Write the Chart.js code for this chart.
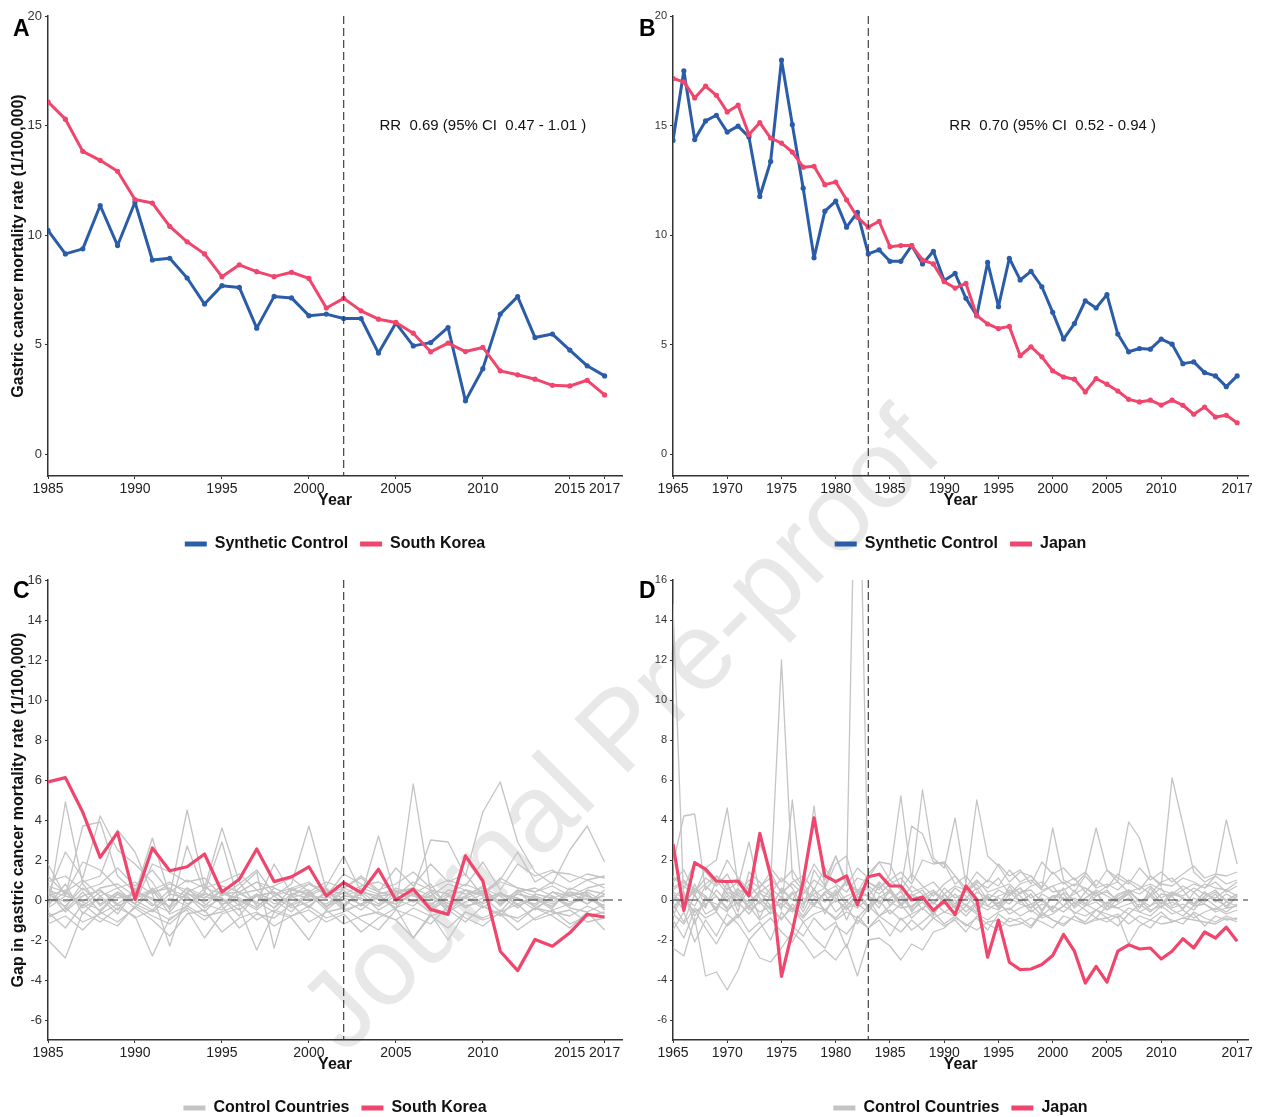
<!DOCTYPE html>
<html>
<head>
<meta charset="utf-8">
<script src="https://cdn.jsdelivr.net/npm/chart.js@4.4.1/dist/chart.umd.min.js"></script>
<style>
html,body{margin:0;padding:0;background:#fff;}
#wrap{position:relative;width:1261px;height:1117px;overflow:hidden;}
canvas{position:absolute;}
#wm{position:absolute;left:618px;top:728px;transform:translate(-50%,-50%) rotate(-45deg);font:110px "Liberation Sans",Arial,sans-serif;color:#e8e8e8;white-space:nowrap;}
</style>
</head>
<body>
<div id="wrap">
<div id="wm">Journal Pre-proof</div>
<canvas id="pA" width="630" height="562" style="left:0;top:0"></canvas>
<canvas id="pB" width="631" height="562" style="left:630px;top:0"></canvas>
<canvas id="pC" width="630" height="566" style="left:0;top:560px"></canvas>
<canvas id="pD" width="631" height="566" style="left:630px;top:560px"></canvas>
</div>
<script>
var yearsKR = [1985,1986,1987,1988,1989,1990,1991,1992,1993,1994,1995,1996,1997,1998,1999,2000,2001,2002,2003,2004,2005,2006,2007,2008,2009,2010,2011,2012,2013,2014,2015,2016,2017];
var yearsJP = [1965,1966,1967,1968,1969,1970,1971,1972,1973,1974,1975,1976,1977,1978,1979,1980,1981,1982,1983,1984,1985,1986,1987,1988,1989,1990,1991,1992,1993,1994,1995,1996,1997,1998,1999,2000,2001,2002,2003,2004,2005,2006,2007,2008,2009,2010,2011,2012,2013,2014,2015,2016,2017];

var koreaRate = [16.08,15.29,13.82,13.41,12.91,11.62,11.46,10.40,9.69,9.14,8.10,8.64,8.33,8.10,8.30,8.02,6.67,7.11,6.54,6.16,6.01,5.52,4.67,5.07,4.68,4.87,3.80,3.62,3.42,3.14,3.11,3.37,2.70];
var synthKorea = [10.21,9.14,9.37,11.35,9.52,11.50,8.86,8.94,8.04,6.85,7.69,7.61,5.75,7.20,7.13,6.32,6.39,6.19,6.19,4.61,5.98,4.94,5.09,5.78,2.43,3.90,6.39,7.19,5.32,5.48,4.75,4.03,3.57];

var japanRate = [17.15,16.99,16.26,16.80,16.38,15.62,15.93,14.59,15.13,14.43, 14.20,13.79,13.10,13.14,12.30,12.42,11.61,10.81,10.36,10.63, 9.47,9.52,9.52,8.86,8.68,7.87,7.58,7.79,6.32,5.94, 5.73,5.83,4.49,4.90,4.44,3.80,3.52,3.42,2.84,3.45, 3.19,2.88,2.50,2.38,2.46,2.24,2.46,2.23,1.82,2.15, 1.69,1.77,1.43];
var synthJapan = [14.32,17.50,14.36,15.21,15.47,14.70,14.97,14.48,11.76,13.36, 17.99,15.04,12.14,8.96,11.09,11.55,10.36,11.04,9.14,9.32, 8.80,8.80,9.52,8.68,9.26,7.92,8.25,7.11,6.32,8.75, 6.73,8.94,7.95,8.34,7.64,6.47,5.25,5.96,7.00,6.67, 7.28,5.48,4.67,4.82,4.79,5.25,5.02,4.13,4.21,3.72, 3.57,3.08,3.57];

var gapKorea = [5.90,6.12,4.39,2.13,3.38,0.03,2.60,1.46,1.66,2.30,0.40,1.04,2.55,0.92,1.16,1.66,0.20,0.87,0.37,1.54,0.00,0.54,-0.47,-0.72,2.21,0.95,-2.56,-3.53,-1.97,-2.31,-1.64,-0.72,-0.85];
var gapJapan = [2.80,-0.52,1.87,1.54,0.95,0.92,0.95,0.20,3.33,1.21, -3.82,-1.56,0.95,4.11,1.21,0.92,1.21,-0.25,1.16,1.29, 0.70,0.70,0.00,0.15,-0.52,-0.05,-0.72,0.70,0.03,-2.86, -1.01,-3.11,-3.48,-3.45,-3.23,-2.78,-1.72,-2.56,-4.15,-3.32, -4.11,-2.56,-2.24,-2.45,-2.40,-2.95,-2.56,-1.94,-2.40,-1.60, -1.90,-1.36,-2.06];

// placebo gaps of the donor countries (1985-2017)
var controlsKR = [
  [-0.5,4.9,0.8,-0.3,0.4,-0.2,0.6,-0.4,0.3,-0.1,0.5,-0.3,0.2,0.4,-0.2,0.3,-0.5,0.2,0.1,-0.3,0.4,0.2,-0.2,0.3,-0.4,0.1,0.3,-0.2,0.2,-0.1,0.3,0.0,0.2],
  [1.8,0.2,3.7,3.9,1.2,0.4,-0.3,0.5,0.2,-0.6,0.3,0.1,-0.4,0.6,0.2,-0.3,0.4,0.1,-0.2,0.3,0.5,-0.1,0.2,-0.3,0.1,0.4,-0.2,0.3,0.1,-0.2,0.2,0.4,-0.1],
  [0.3,2.4,1.1,4.2,2.5,1.8,0.9,-0.5,2.7,0.4,2.9,-0.2,0.3,-0.4,0.6,0.2,0.1,0.5,-0.3,0.2,0.3,0.6,-0.4,0.2,0.5,-0.2,0.3,0.1,-0.3,0.4,0.2,-0.2,0.3],
  [-2.0,-2.9,-0.6,-1.1,-0.4,-0.8,-2.8,-0.9,-0.5,-1.9,-0.7,-0.4,-2.5,-0.6,-0.9,-2.0,-0.5,-1.2,-0.8,-0.6,-1.0,-1.9,-0.7,-2.0,-0.6,-0.9,-0.5,-1.1,-0.4,-0.8,-1.4,-0.6,-1.5],
  [0.6,-0.4,0.9,1.2,3.5,2.4,0.3,-2.3,0.4,0.8,-0.3,0.6,1.4,-2.4,0.5,0.3,0.7,2.2,0.4,-0.2,0.6,0.3,0.8,-0.4,0.5,0.2,-0.6,0.4,0.6,0.2,-0.3,0.5,0.3],
  [0.2,0.5,-0.3,0.4,0.1,0.3,3.1,0.2,4.5,0.6,0.3,0.4,-0.2,1.8,0.3,0.5,-0.4,0.6,0.2,3.2,0.1,0.4,-0.3,0.5,0.3,0.6,0.2,-0.4,0.3,0.1,0.4,-0.2,0.5],
  [-0.8,-0.5,0.4,-0.6,0.3,-0.4,0.5,-0.7,-0.3,0.6,3.6,0.9,-0.3,0.2,0.8,3.7,0.5,-0.4,0.6,0.3,-0.5,5.8,0.4,-0.6,0.2,0.7,-0.3,0.5,0.2,-0.4,0.6,0.3,-0.5],
  [0.4,-0.6,0.2,0.5,-0.3,0.1,0.4,0.6,-0.2,0.3,0.1,-0.5,0.2,0.4,-0.3,0.2,0.6,-0.3,0.4,0.2,-0.4,0.5,3.0,2.9,1.2,4.4,5.9,2.9,1.4,0.8,2.5,3.7,1.9],
  [-1.2,-0.8,-1.5,-0.6,-1.1,-0.4,-1.0,-1.8,-0.7,-0.5,-1.6,-0.9,-0.6,-1.3,-0.8,-0.5,-1.1,-0.7,-1.6,-0.9,-0.4,-1.9,-0.8,-1.4,-0.6,-1.0,-0.7,-1.5,-0.9,-0.5,-1.2,-0.8,-0.6],
  [0.9,1.2,0.5,0.8,1.6,0.7,1.5,0.4,1.0,0.6,0.9,1.3,0.5,0.7,1.1,0.4,0.9,0.6,1.2,0.5,0.8,1.4,0.6,1.0,0.7,1.9,0.5,1.8,1.2,1.5,0.9,1.3,1.1],
  [0.1,-0.3,0.6,-0.2,0.4,0.0,-0.5,0.3,0.1,-0.3,0.5,-0.1,0.2,-0.4,0.3,0.1,-0.2,0.4,0.0,-0.3,0.2,-0.1,0.5,-0.2,0.1,-0.4,0.3,0.0,-0.2,0.4,-0.1,0.2,-0.3],
  [-0.3,0.8,-0.7,0.2,-0.5,0.6,-0.2,-0.6,0.4,-0.4,0.1,-0.8,0.3,0.0,-0.6,0.4,-0.3,0.0,-0.5,0.2,-0.2,0.3,-0.4,-0.1,0.2,-0.3,-0.8,0.1,-0.5,0.2,-0.4,-0.6,-0.2],
  [1.2,0.3,1.9,1.5,0.6,-0.2,1.8,1.4,0.9,1.1,0.2,0.8,1.5,0.3,0.6,0.9,0.2,1.3,0.8,0.4,1.6,0.7,1.8,0.9,1.3,0.2,1.1,0.6,0.4,0.9,0.5,1.0,0.6],
  [-0.6,-1.4,-0.2,-0.9,-1.3,-0.3,-0.8,-1.2,-0.4,-1.0,-0.3,-1.4,-0.7,-0.9,-0.2,-1.1,-0.6,-0.4,-1.0,-1.5,-0.5,-0.8,-1.2,-0.3,-0.9,-1.3,-0.6,-0.2,-1.0,-0.7,-0.5,-1.1,-0.9],
  [0.5,0.2,-0.1,0.6,0.8,0.2,0.5,0.9,0.3,0.1,0.7,0.4,0.9,0.2,0.5,0.8,0.3,0.6,1.1,0.4,0.2,0.9,0.5,0.3,0.8,0.4,1.0,2.4,0.9,1.4,1.3,1.0,1.2],
  [-0.2,0.4,-0.4,0.1,-0.7,0.5,0.0,-0.3,0.6,-0.2,-0.5,0.3,-0.1,-0.6,0.2,-0.4,0.5,-0.2,0.3,-0.5,0.0,-0.3,0.4,-0.6,-0.1,0.3,-0.2,0.5,-0.4,0.1,-0.2,0.3,-0.4],
  [0.3,-0.1,0.2,0.5,-0.2,0.4,0.1,-0.3,0.6,0.2,-0.1,0.3,0.5,-0.2,0.1,0.4,-0.3,0.2,0.5,0.0,-0.2,0.3,0.1,-0.4,0.2,0.5,-0.1,0.3,0.0,-0.3,0.4,0.2,-0.1],
  [-0.4,0.2,-0.1,-0.5,0.3,-0.2,-0.6,0.1,-0.3,0.4,-0.2,0.0,-0.5,0.2,-0.4,-0.1,0.3,-0.5,-0.2,0.1,-0.4,0.0,-0.6,0.2,-0.3,-0.1,0.4,-0.3,0.1,-0.5,-0.2,0.1,-0.4],
  [0.7,0.4,1.0,0.2,0.6,0.9,0.3,0.8,0.5,0.1,0.7,0.4,0.9,0.6,0.2,0.8,0.5,0.3,0.7,0.9,0.4,0.6,0.2,0.8,0.5,0.3,0.9,0.6,0.4,0.7,0.2,0.6,0.8],
  [-0.9,-0.4,-1.1,-0.7,-0.2,-0.9,-0.5,-1.0,-0.3,-0.8,-0.6,-0.2,-1.0,-0.5,-0.8,-0.3,-0.9,-0.6,-0.2,-0.7,-1.0,-0.4,-0.8,-0.5,-1.1,-0.3,-0.7,-0.9,-0.4,-0.6,-0.8,-0.3,-0.7]
];

// placebo gaps of the donor countries (1965-2017)
var controlsJP = [
  [14.8,-0.3,0.6,0.2,-0.5,0.4,0.1,-0.3,0.5,0.2, -0.4,0.3,0.6,-0.2,0.4,0.1,-0.5,0.3,0.2,-0.1, 0.4,-0.3,0.2,0.5,-0.2,0.3,-0.4,0.1,0.6,-0.3, 0.2,0.4,-0.1,0.3,-0.5,0.2,0.1,-0.3,0.4,0.0, -0.2,0.3,0.5,-0.1,0.2,-0.4,0.3,0.1,-0.2,0.4, 0.0,-0.3,0.2],
  [1.8,4.2,4.3,0.5,1.2,0.8,-0.6,1.4,0.9,0.3, 1.1,0.6,-0.4,1.5,0.7,2.2,0.9,0.4,1.3,1.9, 1.8,0.6,3.7,3.3,1.9,1.8,0.8,1.2,0.5,1.0, 0.7,1.5,0.9,1.2,0.6,1.4,0.8,1.1,0.4,1.0, 0.6,1.3,0.9,0.5,1.2,0.8,0.7,1.1,0.9,0.6, 1.2,0.8,1.0],
  [-2.4,-2.8,-0.9,-3.8,-3.6,-4.5,-3.5,-2.0,-2.9,-3.1, -2.4,-1.6,-2.1,-2.9,-2.5,-3.0,-2.2,-3.8,-2.0,-1.9, -2.3,-3.0,-2.2,-2.5,-1.6,-1.4,-0.9,-1.2,-1.5,-1.1, -1.0,-1.3,-1.2,-0.9,-1.1,-1.4,-0.8,-1.0,-1.2,-0.9, -1.1,-0.8,-2.2,-1.3,-1.0,-1.2,-1.1,-0.9,-1.0,-1.1, -1.2,-0.9,-1.1],
  [0.5,0.9,0.3,1.6,2.0,4.6,0.7,2.9,0.4,0.8, 12.0,1.1,0.5,4.7,0.6,1.8,2.2,0.3,0.9,0.5, 1.3,5.2,1.0,5.5,2.1,1.6,4.1,0.8,5.0,2.2, 1.7,0.9,1.4,1.2,0.6,3.6,1.0,0.7,1.3,3.6, 1.5,0.9,3.9,3.1,1.2,0.7,6.1,3.8,1.4,0.9, 1.2,4.0,1.8],
  [-0.8,0.4,-1.2,0.2,-0.6,0.9,-0.3,0.5,-0.9,0.3, -0.5,5.0,-0.2,0.6,-0.7,0.4,-1.0,0.2,-0.4,0.8, -0.3,0.5,-0.6,0.1,-0.8,0.3,-0.2,0.6,-0.5,0.2, -0.4,0.7,-0.1,0.3,-0.6,0.2,-0.3,0.5,-0.2,0.4, -0.5,0.1,0.3,-0.4,0.6,-0.2,0.2,-0.5,0.4,-0.1, 0.3,-0.4,0.2],
  [0.2,-0.5,0.8,-0.3,0.5,-0.1,0.6,-0.4,0.3,0.1, -0.2,0.4,-0.6,0.5,0.0,0.3,1.0,28.0,0.2,-0.4, 0.6,-0.2,0.3,-0.5,0.4,0.1,-0.3,0.5,-0.1,0.2, -0.4,0.3,0.6,-0.2,0.1,-0.5,0.4,0.0,-0.3,0.2, 0.5,-0.1,0.3,-0.4,0.2,0.6,-0.3,0.1,-0.2,0.4, -0.1,0.3,0.0],
  [1.2,0.6,1.9,1.4,0.8,2.0,1.1,0.5,2.8,1.6, 0.9,1.5,0.6,1.8,1.0,2.2,0.7,1.6,1.1,1.9, 1.0,1.4,0.8,2.0,1.8,1.9,1.2,0.6,1.4,0.9, 1.8,1.2,1.5,0.8,1.9,1.3,1.6,1.0,1.4,0.7, 1.5,1.1,0.8,1.6,1.0,1.4,0.9,1.3,1.7,1.1, 1.3,1.2,1.4],
  [-1.5,-0.6,-2.1,-1.0,-1.8,-0.7,-1.2,-2.0,-1.4,-0.9, -1.6,-2.1,-1.1,-1.9,-2.4,-1.3,-1.7,-1.0,-1.4,-0.8, -1.2,-1.6,-1.0,-1.5,-0.9,-1.3,-1.0,-1.6,-0.8,-1.2, -1.5,-0.9,-1.1,-1.4,-0.7,-1.0,-1.3,-0.8,-1.2,-1.0, -0.9,-1.3,-0.7,-1.1,-1.4,-0.8,-1.0,-1.2,-0.6,-0.9, -1.1,-0.8,-1.0],
  [0.4,0.1,-0.3,0.7,0.2,-0.4,0.5,0.3,-0.2,0.6, 0.1,-0.5,0.4,0.2,-0.1,0.5,-0.3,0.3,0.6,-0.2, 0.1,0.4,-0.4,0.2,0.5,-0.1,0.3,-0.3,0.4,0.1, -0.2,0.5,0.2,-0.4,0.3,0.0,0.6,-0.2,0.1,0.4, -0.3,0.2,0.5,-0.1,0.3,-0.2,0.4,0.1,-0.3,0.2, 0.5,-0.1,0.3],
  [-0.2,-1.1,0.3,-0.7,-0.4,0.2,-0.9,-0.1,-0.6,-0.3, -1.0,-0.2,-0.8,0.1,-0.5,-0.9,-0.3,-1.2,-0.4,0.0, -0.7,-0.2,-0.9,-0.4,-0.1,-0.6,-0.3,-0.8,-0.2,-0.5, -0.1,-0.7,-0.4,-0.2,-0.8,-0.3,-0.6,-0.1,-0.5,-0.9, -0.3,-0.4,-0.7,-0.2,-0.6,-0.1,-0.5,-0.8,-0.3,-0.2, -0.6,-0.4,-0.3],
  [0.9,1.5,0.4,1.1,0.7,1.3,0.2,1.0,0.6,1.4, 0.3,0.9,1.2,0.5,1.6,0.8,0.4,1.1,0.9,0.6, 1.0,0.5,1.3,0.7,0.2,0.8,1.2,0.4,0.9,0.6, 1.1,0.3,0.8,1.0,0.5,0.7,0.9,0.4,1.2,0.6, 0.8,0.5,1.0,0.7,0.3,0.9,1.1,0.5,0.8,0.6, 0.9,0.4,0.7],
  [-0.5,0.3,-0.8,0.0,-0.2,-0.6,0.4,-0.5,-0.1,-0.7, 0.2,-0.4,-0.9,-0.2,0.3,-0.6,-0.1,-0.4,0.1,-0.8, -0.3,0.2,-0.5,-0.1,-0.7,0.0,-0.4,-0.2,-0.6,0.1, -0.3,-0.5,0.0,-0.6,-0.2,-0.4,0.1,-0.7,-0.3,-0.1, -0.5,-0.2,0.1,-0.6,-0.3,0.0,-0.4,-0.2,-0.5,0.1, -0.3,-0.6,-0.2],
  [0.0,0.7,0.2,-0.4,1.0,0.3,-0.2,0.8,0.1,-0.5, 0.6,0.0,0.9,-0.3,0.4,0.7,-0.1,0.5,0.2,0.9, 0.4,0.0,0.7,0.3,-0.2,0.6,0.1,0.4,0.8,0.0, 0.5,0.2,0.6,0.1,0.4,0.7,0.0,0.3,0.6,0.2, 0.4,0.0,0.5,0.3,0.7,0.1,0.4,0.2,0.6,0.3, 0.1,0.5,0.2],
  [-1.0,-1.9,-0.5,-1.4,-2.2,-1.2,-0.7,-1.6,-1.1,-2.0, -0.6,-1.3,-1.8,-0.9,-1.5,-1.1,-2.4,-0.8,-1.4,-1.0, -1.8,-0.9,-1.5,-1.1,-0.6,-1.2,-0.8,-1.3,-0.9,-1.5, -0.7,-1.1,-0.9,-1.3,-0.6,-1.0,-1.2,-0.8,-1.1,-0.5, -0.9,-0.7,-1.2,-0.8,-1.0,-0.6,-1.1,-0.9,-0.7,-1.3, -0.8,-1.0,-0.9],
  [0.3,-0.2,0.5,0.1,-0.4,0.6,0.2,-0.1,0.4,-0.3, 0.5,0.0,-0.2,0.3,0.6,-0.1,0.2,0.4,-0.3,0.1, 0.5,-0.2,0.3,0.0,0.4,-0.1,0.6,0.2,-0.3,0.3, 0.1,-0.2,0.4,0.5,-0.1,0.2,0.3,-0.4,0.1,0.5, 0.2,-0.1,0.4,0.0,-0.3,0.3,0.2,0.5,-0.2,0.1, 0.4,0.0,0.3],
  [-0.3,0.1,-0.6,-0.2,0.2,-0.5,-0.1,-0.7,0.0,-0.4, -0.2,-0.6,0.1,-0.3,-0.5,0.0,-0.4,-0.2,-0.6,0.2, -0.1,-0.4,-0.3,0.1,-0.5,-0.2,0.0,-0.6,-0.1,-0.3, -0.5,0.1,-0.2,-0.4,0.0,-0.6,-0.3,0.1,-0.2,-0.5, -0.1,-0.4,-0.2,0.0,-0.5,-0.3,-0.1,-0.4,0.1,-0.2, -0.5,-0.1,-0.3],
  [0.6,1.0,0.3,0.8,1.2,0.5,0.9,0.2,0.7,1.1, 0.4,0.8,0.3,1.0,0.6,0.2,0.9,0.5,0.7,0.3, 0.8,1.1,0.4,0.6,0.9,0.3,0.7,0.5,1.0,0.4, 0.6,0.8,0.3,0.7,0.9,0.4,0.5,0.8,0.6,0.3, 0.7,0.9,0.4,0.6,0.8,0.5,0.3,0.7,0.4,0.8, 0.6,0.5,0.9],
  [-0.7,-1.2,-0.4,-0.9,-0.6,-1.3,-0.8,-0.3,-1.0,-0.6, -0.9,-0.4,-1.1,-0.7,-0.5,-1.0,-0.6,-0.9,-0.3,-0.8, -0.5,-1.0,-0.7,-0.4,-0.9,-0.6,-0.8,-0.3,-0.7,-1.0, -0.6,-0.4,-0.8,-0.5,-0.9,-0.7,-0.3,-0.6,-0.8,-0.5, -0.7,-0.9,-0.4,-0.6,-0.8,-0.3,-0.7,-0.5,-0.9,-0.6, -0.4,-0.7,-0.5]
];

var ticksKR = [1985,1990,1995,2000,2005,2010,2015,2017];
var ticksJP = [1965,1970,1975,1980,1985,1990,1995,2000,2005,2010,2017];
var rateTicks = [0,5,10,15,20];
var gapTicks = [-6,-4,-2,0,2,4,6,8,10,12,14,16];

var BLUE = '#2B5CA7', RED = '#F0456C', GREY = '#C4C4C4';
var FONT = '"Liberation Sans", Arial, Helvetica, sans-serif';
Chart.defaults.font.family = FONT;
Chart.defaults.color = '#222';

function pts(xs, ys) {
	return xs.map(function (x, i) { return {x: x, y: ys[i]}; });
}

var marks = {
	id: 'marks',
	afterDatasetsDraw: function (chart, args, o) {
		var ctx = chart.ctx, a = chart.chartArea, sx = chart.scales.x, sy = chart.scales.y;
		ctx.save();
		ctx.strokeStyle = '#333';
		ctx.lineWidth = 1.1;
		if (o.hline != null) {
			var py = sy.getPixelForValue(o.hline);
			ctx.setLineDash([10, 5]);
			ctx.beginPath(); ctx.moveTo(a.left, py); ctx.lineTo(a.right, py); ctx.stroke();
		}
		if (o.vline != null) {
			var px = sx.getPixelForValue(o.vline);
			ctx.setLineDash([8, 4]);
			ctx.beginPath(); ctx.moveTo(px, a.top); ctx.lineTo(px, a.bottom); ctx.stroke();
		}
		ctx.setLineDash([]);
		if (o.note) {
			ctx.fillStyle = '#111';
			ctx.font = '15px ' + FONT;
			ctx.textAlign = 'center';
			ctx.textBaseline = 'middle';
			ctx.fillText(o.note[2], sx.getPixelForValue(o.note[0]), sy.getPixelForValue(o.note[1]));
		}
		ctx.restore();
	},
	afterDraw: function (chart, args, o) {
		if (!o.letter) return;
		var ctx = chart.ctx;
		ctx.save();
		ctx.fillStyle = '#000';
		ctx.font = 'bold 23px ' + FONT;
		ctx.textAlign = 'left';
		ctx.textBaseline = 'alphabetic';
		ctx.fillText(o.letter[0], o.letter[1], o.letter[2]);
		ctx.restore();
	}
};
Chart.register(marks);

function panel(id, c) {
	return new Chart(document.getElementById(id), {
		type: 'line',
		data: {datasets: c.datasets},
		options: {
			responsive: false,
			animation: false,
			events: [],
			layout: {padding: c.pad},
			scales: {
				x: {
					type: 'linear', min: c.xmin, max: 2018,
					afterBuildTicks: function (s) { s.ticks = c.xticks.map(function (v) { return {value: v}; }); },
					afterFit: function (s) { s.height = 48; },
					ticks: {autoSkip: false, maxRotation: 0, padding: 2, color: '#222', font: {size: 14},
						callback: function (v) { return String(v); }},
					grid: {display: true, drawOnChartArea: false, tickLength: 3, color: '#333'},
					border: {display: true, color: '#333', width: 1.5},
					title: {display: true, text: 'Year', color: '#111', font: {size: 16, weight: 'bold'}, padding: {top: 0, bottom: 14}}
				},
				y: {
					min: c.ymin, max: c.ymax,
					afterBuildTicks: function (s) { s.ticks = c.yticks.map(function (v) { return {value: v}; }); },
					afterFit: function (s) { s.width = c.yw; },
					ticks: {padding: 3, color: '#333', font: {size: c.yfont}, callback: function (v) { return String(v); }},
					grid: {display: true, drawOnChartArea: false, tickLength: 3, color: '#333'},
					border: {display: true, color: '#333', width: 1.5},
					title: {display: !!c.ytitle, text: c.ytitle || '', color: '#111', font: {size: 16, weight: 'bold'}, padding: {top: 9, bottom: 0}}
				}
			},
			plugins: {
				tooltip: {enabled: false},
				legend: {
					position: 'bottom',
					fullSize: false,
					labels: {
						boxWidth: 22, boxHeight: 5, padding: 12, color: '#111',
						font: {size: 16, weight: 'bold'},
						sort: function (a, b) { return a.datasetIndex - b.datasetIndex; },
						generateLabels: function (chart) {
							var items = Chart.defaults.plugins.legend.labels.generateLabels(chart);
							return items.filter(function (it) { return it.text; }).map(function (it) {
								it.fillStyle = it.strokeStyle;
								it.lineWidth = 0;
								return it;
							});
						}
					}
				},
				marks: c.marks
			}
		}
	});
}

function mainLine(label, xs, ys, color, order) {
	return {label: label, data: pts(xs, ys), borderColor: color, backgroundColor: color,
		borderWidth: 3, borderJoinStyle: 'round', pointRadius: 2.6, pointBorderWidth: 0, tension: 0, order: order};
}

function gapSets(label, xs, ctrls, gap) {
	var sets = ctrls.map(function (vals, i) {
		return {label: i === 0 ? 'Control Countries' : '', data: pts(xs, vals), borderColor: GREY,
			backgroundColor: GREY, borderWidth: 1.3, borderJoinStyle: 'round', pointRadius: 0, tension: 0, order: 1};
	});
	sets.push({label: label, data: pts(xs, gap), borderColor: RED, backgroundColor: RED,
		borderWidth: 3.2, borderJoinStyle: 'round', pointRadius: 0, tension: 0, order: 0});
	return sets;
}

panel('pA', {
	datasets: [mainLine('Synthetic Control', yearsKR, synthKorea, BLUE, 1), mainLine('South Korea', yearsKR, koreaRate, RED, 0)],
	pad: {top: 16, right: 8, left: 0, bottom: 0},
	xmin: 1985, xticks: ticksKR,
	ymin: -1, ymax: 20, yticks: rateTicks, yw: 48, yfont: 13,
	ytitle: 'Gastric cancer mortality rate (1/100,000)',
	marks: {vline: 2002, note: [2010, 15, 'RR  0.69 (95% CI  0.47 - 1.01 )'], letter: ['A', 13, 36]}
});

panel('pB', {
	datasets: [mainLine('Synthetic Control', yearsJP, synthJapan, BLUE, 1), mainLine('Japan', yearsJP, japanRate, RED, 0)],
	pad: {top: 16, right: 13, left: 0, bottom: 0},
	xmin: 1965, xticks: ticksJP,
	ymin: -1, ymax: 20, yticks: rateTicks, yw: 43, yfont: 11,
	marks: {vline: 1983, note: [2000, 15, 'RR  0.70 (95% CI  0.52 - 0.94 )'], letter: ['B', 9, 36]}
});

panel('pC', {
	datasets: gapSets('South Korea', yearsKR, controlsKR, gapKorea),
	pad: {top: 20, right: 8, left: 0, bottom: 0},
	xmin: 1985, xticks: ticksKR,
	ymin: -7, ymax: 16, yticks: gapTicks, yw: 48, yfont: 13,
	ytitle: 'Gap in gastric cancer mortality rate (1/100,000)',
	marks: {vline: 2002, hline: 0, letter: ['C', 13, 38]}
});

panel('pD', {
	datasets: gapSets('Japan', yearsJP, controlsJP, gapJapan),
	pad: {top: 20, right: 13, left: 0, bottom: 0},
	xmin: 1965, xticks: ticksJP,
	ymin: -7, ymax: 16, yticks: gapTicks, yw: 43, yfont: 11,
	marks: {vline: 1983, hline: 0, letter: ['D', 9, 38]}
});
</script>
</body>
</html>
